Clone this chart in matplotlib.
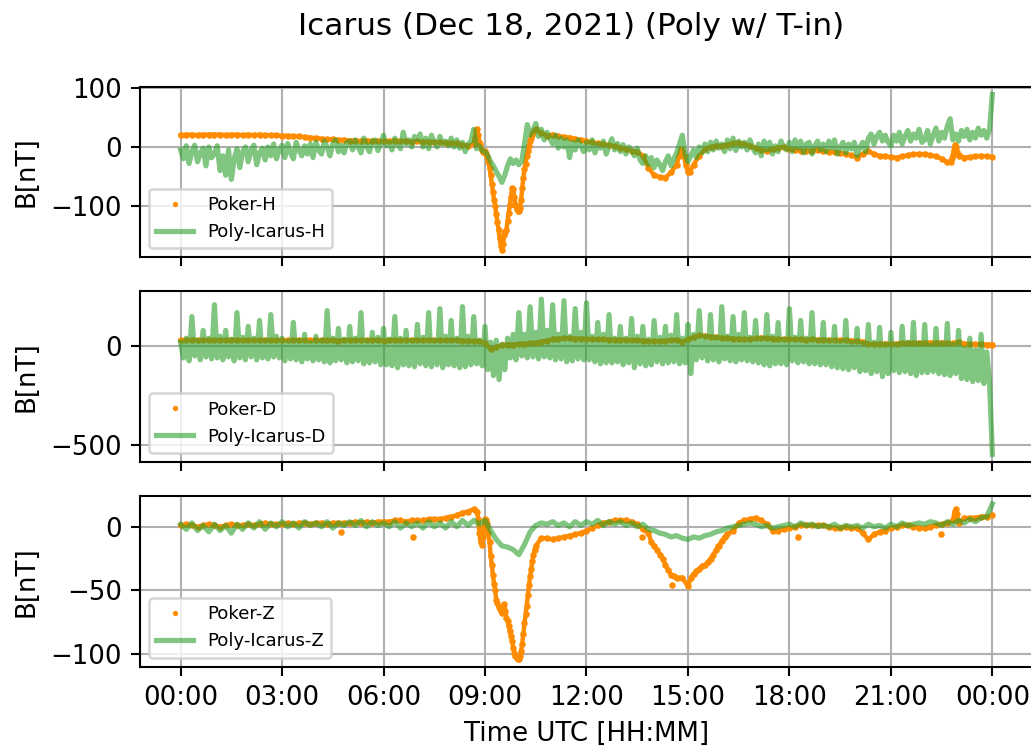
import numpy as np
import matplotlib
matplotlib.use("Agg")
import matplotlib.pyplot as plt
import matplotlib.dates as mdates

# Poker values, 10-minute grid (one row = one hour), last value = 24:00
poker_h = [
    20, 21, 21, 20, 21, 21,
    21, 21, 20, 21, 21, 20,
    21, 20, 21, 20, 20, 20,
    19, 19, 18, 18, 17, 16,
    15, 14, 13, 13, 12, 12,
    11, 11, 10, 11, 10, 10,
    10, 10, 11, 10, 10, 9,
    10, 9, 9, 8, 8, 7,
    7, 6, 4, 2, 5, 8,
    -7, -48, -114, -174, -125, -72,
    -108, -38, 10, 30, 24, 19,
    21, 18, 17, 16, 14, 12,
    10, 8, 6, 5, 3, 1,
    -1, -3, -7, -8, -15, -35,
    -48, -51, -52, -43, -30, -6,
    -43, -30, -15, -4, 0, 2,
    2, 4, 6, 7, 5, 2,
    -2, -5, -7, -3, -1, 0,
    -4, -5, -6, -7, -6, -5,
    -7, -8, -9, -10, -12, -14,
    -18, -12, -7, -12, -15, -16,
    -17, -18, -16, -14, -12, -12,
    -12, -14, -16, -20, -26, -14,
    -15, -18, -17, -16, -15, -16,
    -17,
]
# extra Poker-H readings during the fast changes (minutes after 00:00)
poker_h_fast_min = [522, 524, 526, 528, 531, 534, 537,
                    542, 544, 546, 548, 552, 554, 556, 558, 562, 564, 566, 568,
                    572, 574, 576, 578, 582, 584, 586, 588, 592, 594, 596, 598, 602,
                    604, 606, 608, 612, 614, 616, 618, 622, 624, 626, 628,
                    884, 887, 890, 893, 896, 903,
                    1366, 1369, 1372, 1374, 1376, 1378, 1381]
poker_h_fast = [15, 28, 30, 20, 5, -5, -9,
                -12, -17, -25, -35, -62, -76, -90, -100, -128, -140, -155, -168,
                -165, -150, -145, -140, -112, -98, -85, -70, -85, -98, -106, -108, -103,
                -90, -70, -52, -28, -15, -6, 2, 15, 20, 25, 28,
                -15, -4, -6, -15, -30, -42,
                -26, -18, -5, 4, 0, -8, -14]

poker_d = [
    30, 30, 31, 30, 30, 31,
    31, 30, 30, 31, 30, 30,
    30, 30, 31, 30, 30, 30,
    30, 29, 30, 31, 30, 30,
    30, 30, 29, 30, 28, 30,
    30, 30, 29, 30, 30, 31,
    28, 30, 30, 29, 30, 31,
    30, 30, 31, 30, 29, 30,
    30, 29, 28, 27, 26, 25,
    15, -15, -5, 5, 8, 8,
    10, 12, 15, 18, 22, 28,
    35, 38, 40, 40, 38, 38,
    36, 35, 34, 34, 33, 32,
    32, 31, 30, 30, 28, 25,
    26, 25, 27, 30, 32, 22,
    35, 45, 55, 52, 48, 45,
    42, 40, 38, 36, 35, 35,
    40, 42, 40, 38, 36, 35,
    36, 35, 34, 33, 34, 32,
    32, 30, 30, 31, 29, 28,
    25, 22, 10, 10, 12, 12,
    12, 12, 14, 15, 15, 16,
    16, 17, 17, 18, 16, 14,
    22, 12, 10, 10, 9, 8,
    8,
]

poker_z = [
    1, 2, 1, 0, 1, 2,
    1, 0, 1, 2, 1, 1,
    2, 1, 2, 3, 2, 2,
    2, 3, 2, 3, 3, 2,
    3, 3, 2, 3, 3, 3,
    3, 4, 3, 4, 3, 4,
    4, 4, 5, 5, 4, 5,
    5, 5, 6, 6, 6, 7,
    8, 9, 11, 12, 14, -5,
    6, -23, -58, -68, -74, -95,
    -104, -76, -39, -15, -9, -9,
    -10, -9, -8, -7, -6, -5,
    -3, -1, 1, 3, 4, 5,
    5, 5, 4, 2, -2, -5,
    -15, -22, -30, -38, -40, -40,
    -47, -37, -33, -30, -25, -18,
    -11, -6, -3, 3, 5, 6,
    7, 5, 2, -3, -3, -2,
    -1, 0, 1, 1, 1, 1,
    1, 0, -1, -1, 0, -1,
    -1, -5, -10, -6, -4, -3,
    -1, 0, 1, 1, 0, -1,
    -1, 0, 1, 2, 3, 5,
    3, 7, 7, 7, 8, 8,
    9,
]
poker_z_fast_min = [523, 526, 528, 532, 534, 536, 538,
                    542, 544, 546, 548, 552, 554, 556, 558, 562, 564, 566, 568,
                    572, 574, 576, 578, 582, 584, 586, 588, 592, 594, 596, 598, 602,
                    604, 606, 608, 612, 614, 616, 618, 622, 624, 626, 628,
                    835, 845, 855, 865, 875, 905, 915, 925, 935, 945, 955, 965,
                    1373, 1375, 1377]
poker_z_fast = [13, 12, 6, -12, -14, -8, 0,
                5, 2, -5, -12, -30, -38, -45, -50, -60, -63, -65, -66,
                -64, -61, -66, -72, -78, -82, -86, -90, -99, -102, -103, -104, -102,
                -98, -92, -84, -69, -62, -54, -46, -33, -27, -22, -18,
                -12, -18, -25, -34, -39, -40, -35, -31, -28, -22, -15, -8,
                12, 14, 10]
# isolated Poker-Z samples away from the main trace
poker_z_out_min = [284, 413, 819, 872, 954, 1095, 1348]
poker_z_out = [-4, -8, -8, -46, -15, -8, -6]

# Poly-Icarus values, 5-minute grid for H and D (one row = one hour)
poly_h = [
    -5, -20, 2, -28, -8, 3, -25, -10, -2, -32, 0, -18,
    -12, 2, -40, -15, -48, -5, -55, -20, -3, -35, -8, 0,
    -25, -5, 3, -30, -10, -2, -22, 0, -15, 5, -20, -5,
    3, -18, 6, -10, -20, 8, -5, -15, 2, -12, 5, -18,
    8, -5, -12, 10, 0, -15, 6, 12, -8, 3, -10, 8,
    10, -5, 12, 0, -10, 15, 2, -8, 10, 12, -6, 5,
    20, 2, 8, -5, 15, 5, -3, 25, 5, 12, 0, 18,
    12, 22, 0, 15, -3, 20, 8, 0, 18, 5, 10, 2,
    15, 0, 12, -2, 8, -8, 5, 10, 30, -3, 2, -6,
    -8, -15, -25, -32, -42, -50, -60, -48, -32, -20, -28, -22,
    -30, -25, 5, 38, 20, 28, 40, 18, 30, 12, 25, 15,
    5, 20, -2, 15, 0, 12, -18, 8, -5, 12, 2, -8,
    8, -5, 12, -10, 5, -2, 10, -12, 2, 14, -5, 6,
    -8, 4, -12, 0, -5, -15, -2, -22, -28, -15, -30, -18,
    -35, -22, -30, -40, -25, -15, -32, -20, -10, 5, 20, -12,
    -25, -15, -5, -18, 0, -10, 5, -8, 8, -5, 10, -2,
    5, -8, 12, -3, 15, -6, 10, 0, 8, -5, 12, -2,
    -10, 5, -15, 10, -5, 8, -12, 2, -8, 10, 0, -5,
    8, -8, 12, -2, 10, -10, 5, 8, -12, 2, 10, -5,
    5, -8, 10, -2, 12, -12, 0, 8, -10, 5, -3, 8,
    -15, 0, 8, -8, 15, 22, 5, 18, 25, 10, 20, 8,
    2, 20, 10, 25, 5, 18, 28, 10, 22, 15, 30, 8,
    12, 28, 5, 20, 32, 10, 25, 15, 35, 48, 12, 22,
    10, 28, 18, 30, 12, 25, 15, 32, 20, 28, 15, 30,
    89,
]

poly_d = [
    20, -60, 40, -75, 150, -50, 30, -70, 80, -55, 40, -65,
    210, -60, 50, -70, 80, -55, 35, -75, 170, -60, 45, -70,
    100, -55, 40, -70, 130, -60, 30, -65, 160, -55, 50, -60,
    40, -75, 25, -65, 120, -70, 30, -80, 60, -65, 20, -75,
    50, -70, 30, -80, 180, -85, 40, -75, 90, -70, 35, -85,
    100, -80, 40, -75, 170, -90, 30, -85, 70, -80, 45, -95,
    90, -95, 35, -100, 150, -110, 40, -95, 80, -100, 30, -105,
    110, -90, 45, -100, 170, -105, 30, -95, 190, -110, 50, -95,
    130, -100, 40, -110, 200, -105, 50, -95, 150, -90, 30, -100,
    100, -120, 20, -150, 30, -170, 10, -120, 40, -60, 60, -70,
    170, -50, 60, -60, 200, -55, 70, -65, 238, -55, 80, -60,
    210, -70, 60, -65, 230, -80, 50, -75, 190, -65, 70, -70,
    220, -70, 50, -80, 120, -90, 60, -85, 160, -85, 40, -80,
    100, -95, 40, -85, 140, -110, 50, -90, 100, -100, 35, -95,
    130, -80, 45, -90, 100, -85, 55, -80, 160, -90, 40, -85,
    110, -140, 60, -70, 180, -60, 50, -75, 160, -70, 45, -80,
    200, -65, 50, -75, 150, -80, 60, -70, 170, -75, 45, -80,
    130, -85, 40, -95, 160, -100, 50, -90, 120, -90, 35, -95,
    190, -75, 45, -85, 130, -80, 40, -90, 170, -90, 30, -95,
    120, -95, 30, -105, 100, -110, 25, -115, 130, -120, 20, -110,
    90, -130, 15, -125, 110, -140, 20, -130, 95, -155, 10, -140,
    70, -125, 10, -135, 100, -130, 20, -140, 120, -150, 15, -135,
    110, -135, 5, -130, 90, -140, 15, -145, 115, -150, 10, -140,
    80, -165, -10, -170, 40, -180, -20, -175, 60, -190, -30, -185,
    -549,
]

# Poly-Icarus-Z, 10-minute grid
poly_z = [
    2, -2, 3, -3, 1, -4,
    2, -3, 1, -5, 2, -2,
    3, -1, 4, -2, 3, 0,
    4, 0, 3, -1, 4, 1,
    3, 0, 4, -1, 3, 1,
    4, 1, 5, 0, 4, 1,
    3, 0, 4, -1, 3, 0,
    3, -1, 4, 0, 3, -1,
    4, 0, 5, 1, 5, 2,
    5, -3, -10, -15, -16, -18,
    -22, -14, -4, 1, 3, 2,
    4, 1, 3, 0, 4, 1,
    4, 2, 5, 1, 4, 2,
    4, 1, 3, 0, 2, -2,
    -3, -5, -6, -8, -7, -9,
    -10, -8, -9, -7, -6, -4,
    -3, -1, 0, 1, 2, 3,
    2, 0, 1, -1, 0, 1,
    2, 0, 3, 1, 2, 0,
    1, 0, 2, -1, 1, 0,
    1, -1, 2, 0, 1, -1,
    2, 0, 3, 1, 2, 3,
    2, 4, 3, 1, 4, 2,
    5, 3, 6, 4, 7, 8,
    18,
]

day0 = np.datetime64('2021-12-18T00:00')


def to_time(minutes):
    return day0 + np.array(minutes).astype('timedelta64[m]')


t10 = np.arange(0, 24 * 60 + 1, 10)
t5 = np.arange(0, 24 * 60 + 1, 5)

panels = [
    ("H", poker_h, poker_h_fast_min, poker_h_fast, [], [], t5, poly_h, [-100, 0, 100]),
    ("D", poker_d, [], [], [], [], t5, poly_d, [-500, 0]),
    ("Z", poker_z, poker_z_fast_min, poker_z_fast, poker_z_out_min, poker_z_out, t10, poly_z, [-100, -50, 0]),
]

plt.rcParams['font.size'] = 10
fig, axs = plt.subplots(3, 1, figsize=(1031 / 187, 748 / 187), dpi=187, sharex=True)
fig.subplots_adjust(left=0.1358, right=1.0019, bottom=0.1087, top=0.884, hspace=0.2)

for ax, (comp, pk, fast_t, fast_v, out_t, out_v, poly_t, poly, yt) in zip(axs, panels):
    tm = np.concatenate([t10, np.array(fast_t, dtype=int)])
    vv = np.concatenate([np.array(pk, dtype=float), np.array(fast_v, dtype=float)])
    order = np.argsort(tm, kind='stable')
    tm, vv = tm[order], vv[order]
    # dense dots in the original read as a solid trace
    ax.plot(to_time(tm), vv, '-', color='darkorange', lw=1.7, label='_nolegend_')
    ax.plot(to_time(tm), vv, '.', color='darkorange', markersize=3, label='Poker-' + comp)
    if len(out_t):
        ax.plot(to_time(out_t), out_v, '.', color='darkorange', markersize=3)
    ax.plot(to_time(poly_t), poly, color='tab:green', alpha=0.6, lw=2.0, label='Poly-Icarus-' + comp)
    ax.set_yticks(yt)
    ax.set_ylabel('B[nT]')
    ax.grid(True)
    ax.legend(loc='lower left', fontsize=7, markerscale=0.7)

axs[-1].xaxis.set_major_locator(mdates.HourLocator(byhour=range(0, 24, 3)))
axs[-1].xaxis.set_major_formatter(mdates.DateFormatter('%H:%M'))
axs[-1].set_xlabel('Time UTC [HH:MM]')

fig.suptitle('Icarus (Dec 18, 2021) (Poly w/ T-in)', fontsize=12, x=0.554, y=0.953, va='baseline')
fig.savefig('out.png', dpi=187)
